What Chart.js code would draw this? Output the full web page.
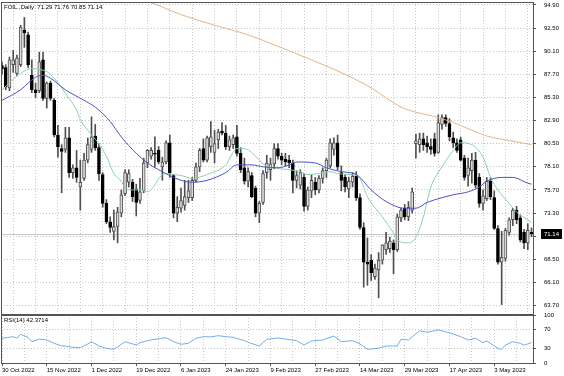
<!DOCTYPE html>
<html>
<head>
<meta charset="utf-8">
<script src="https://cdn.jsdelivr.net/npm/chart.js@4.4.0/dist/chart.umd.min.js"></script>
<style>
  html, body { margin: 0; padding: 0; background: #fff; }
  #wrap { position: relative; width: 564px; height: 376px; overflow: hidden; }
  #main { position: absolute; left: 0; top: 0; }
  #rsi { position: absolute; left: 0; top: 308px; }
</style>
</head>
<body>
<div id="wrap">
  <canvas id="main" width="564" height="316"></canvas>
  <canvas id="rsi" width="564" height="68"></canvas>
</div>
<script>
// daily bars (bar 0 = 30 Oct 2022)
const opens = [88.6,88.4,86.3,88.7,87.8,88.7,92.3,91.8,87.6,86.1,
  86.0,89.2,85.2,86.8,85.0,81.4,80.0,79.9,81.1,77.5,
  78.0,76.0,76.9,78.8,79.9,81.3,80.1,77.3,74.3,72.4,
  71.4,71.9,73.3,75.3,76.5,76.5,75.8,74.6,75.6,78.5,
  79.2,79.5,79.8,78.1,78.6,80.6,77.2,73.3,73.8,74.1,
  74.9,74.9,76.7,78.1,80.0,78.8,80.2,79.6,80.9,81.8,
  81.6,80.2,80.4,81.2,79.5,78.0,76.6,77.2,75.9,73.3,
  74.4,77.5,77.8,78.4,80.0,79.2,78.9,78.8,78.5,76.7,
  76.2,77.0,74.0,75.6,76.5,75.7,76.9,77.7,78.2,79.9,
  80.6,77.5,77.0,75.8,76.5,77.1,74.9,71.8,68.2,68.4,
  66.7,67.4,68.4,69.5,69.6,70.2,69.5,72.8,73.8,72.9,
  73.6,80.5,80.4,81.0,80.6,80.2,81.0,79.6,82.5,83.2,
  82.6,81.1,80.6,80.9,79.0,77.2,77.7,78.8,77.0,74.3,
  74.8,76.6,74.9,71.7,68.2,68.6,71.3,72.6,73.6,72.8,
  71.3,70.2,71.29];
const highs = [89.0,88.7,89.5,90.2,89.7,92.8,93.6,92.1,89.2,86.8,
  90.0,90.0,86.9,87.0,85.2,82.4,80.4,82.2,82.2,78.3,
  79.8,78.8,79.5,81.1,83.3,82.5,80.5,77.5,74.7,72.9,
  73.6,73.9,75.7,77.8,77.8,76.8,76.3,76.9,79.0,79.9,
  80.1,81.2,80.2,79.1,80.8,81.4,77.3,75.0,75.9,76.7,
  76.7,77.0,78.5,80.0,81.0,81.3,82.8,81.9,82.0,82.7,
  82.4,81.3,81.4,82.4,80.1,79.0,78.0,77.5,76.1,74.5,
  77.7,79.3,79.0,80.5,80.5,79.5,79.5,79.3,78.8,77.7,
  77.8,77.4,76.0,77.3,77.0,77.2,78.0,79.0,81.0,81.1,
  81.4,78.2,77.3,77.0,77.5,77.6,75.3,72.3,70.7,69.0,
  68.0,69.2,70.0,71.3,70.8,70.5,73.2,73.8,74.2,74.5,
  75.9,81.5,81.6,81.6,81.3,81.0,81.6,83.5,83.5,83.5,
  83.1,81.7,81.0,81.2,79.3,79.0,79.5,79.6,77.4,75.7,
  77.0,77.0,75.6,72.0,71.4,71.7,72.8,73.8,74.0,73.1,
  71.6,72.2,71.76];
const lows = [87.7,86.1,86.0,87.9,87.6,88.5,90.5,88.4,85.8,85.3,
  85.8,85.0,84.2,85.0,81.2,79.1,75.4,79.6,77.0,76.9,
  76.5,73.6,76.7,78.5,79.6,79.8,76.7,73.9,72.2,71.3,
  70.5,70.2,72.9,75.1,76.0,74.5,73.0,74.3,75.4,78.0,
  78.9,78.1,78.4,76.7,78.4,77.0,72.8,72.4,73.4,73.6,
  74.4,74.6,76.5,77.6,78.6,78.6,79.6,78.5,80.0,81.4,
  79.9,79.8,80.0,79.2,77.5,76.3,76.0,74.9,72.9,72.3,
  74.2,76.9,76.7,77.9,78.9,78.3,78.2,78.0,75.4,75.9,
  75.8,73.5,73.6,74.9,75.2,75.4,76.4,77.0,78.0,79.3,
  77.8,75.6,75.5,74.9,76.0,74.6,71.6,65.6,65.8,66.3,
  66.4,64.5,68.0,69.0,69.2,67.0,69.3,72.4,72.6,72.5,
  73.3,79.0,79.6,79.8,79.6,79.4,79.2,79.5,82.0,82.3,
  80.8,80.1,79.6,78.7,76.7,76.1,76.4,75.9,73.9,73.6,
  74.6,74.7,71.6,68.0,63.8,68.3,71.0,72.0,72.2,70.3,
  69.6,69.5,70.85];
const closes = [88.3,86.4,89.2,89.2,89.4,92.6,92.0,88.7,86.1,85.8,
  89.0,85.2,86.8,85.2,81.4,80.2,79.7,81.1,77.5,78.0,
  77.0,76.5,78.8,80.4,81.2,80.1,77.4,74.3,72.4,71.8,
  71.9,73.4,75.2,77.5,77.4,75.0,74.4,75.5,78.5,79.8,
  79.8,79.4,78.6,78.6,80.6,77.5,73.3,73.9,74.6,75.0,
  75.6,76.7,78.1,79.8,78.8,81.1,81.2,80.5,81.7,81.6,
  80.2,80.9,81.1,79.5,77.8,76.6,77.6,75.0,73.3,74.3,
  77.4,78.5,78.4,80.0,79.2,78.8,78.6,78.5,76.7,77.2,
  77.5,74.0,75.7,76.7,75.7,76.9,77.7,78.8,80.6,80.6,
  78.1,76.7,76.0,76.6,77.1,74.9,71.8,68.2,68.0,67.1,
  67.6,68.4,70.0,70.2,70.4,69.5,72.9,73.6,72.9,73.9,
  75.5,80.8,81.0,80.4,80.2,79.9,79.5,82.7,83.2,82.6,
  81.2,80.6,79.8,78.8,77.0,78.0,78.8,76.2,74.3,75.1,
  76.6,75.0,71.7,68.2,68.7,71.5,72.6,73.6,72.6,70.5,
  70.2,71.5,71.14];

// moving averages, sampled along the drawn lines (bar index / price)
const maFastIdx = [0,5,8,10,12,14,16,18,20,21,23,24,26,28,30,32,33,35,37,39,41,42,44,46,48,51,55,60,63,65,68,70,73,77,80,82,85,88,90,93,95,96,98,102,105,106,109,111,113,115,118,121,123,126,129,131,133,136,138,141,142];
const maFastVal = [86.1,87.8,88.3,88.2,88.0,87.3,86.3,85.2,84.0,83.0,81.9,81.4,80.5,79.2,77.4,76.6,75.9,75.7,75.7,75.5,76.2,76.9,77.4,77.3,77.2,76.9,77.3,78.3,80.0,80.0,79.2,78.4,78.0,77.8,77.6,77.3,77.4,77.6,77.4,77.3,77.2,76.9,75.0,72.9,71.2,70.5,70.2,70.8,72.9,76.0,78.1,79.8,80.6,80.4,79.1,77.0,75.7,74.3,73.4,72.6,72.3];
const maMidIdx = [0,5,9,11,13,17,22,25,29,32,36,39,42,48,51,55,60,63,67,70,74,77,79,84,87,91,95,99,103,108,111,114,118,121,125,128,130,134,137,141,142];
const maMidVal = [85.0,86.1,87.4,87.6,87.3,86.1,85.0,84.3,82.8,81.2,79.5,78.5,77.8,76.7,76.5,76.7,77.5,78.3,78.3,78.1,78.0,78.3,78.6,78.5,78.0,77.6,77.3,75.7,74.5,73.8,73.8,74.4,74.9,75.2,75.5,76.0,76.6,77.0,77.0,76.4,76.3];
const maSlowIdx = [30,38,48,57,66,74,83,92,99,107,117,121,126,130,135,142];
const maSlowVal = [95.9,95.4,93.9,92.8,91.8,90.6,89.2,87.7,86.3,84.3,83.2,82.7,81.9,81.3,80.9,80.4];

// RSI(14), sampled along the lower panel line
const rsiIdx = [0,3,4,5,7,8,10,12,14,16,17,19,21,23,24,26,28,30,33,36,37,39,42,44,46,48,50,52,54,56,58,60,62,65,66,69,71,74,76,79,81,83,86,89,91,94,96,98,101,103,106,107,109,112,114,117,120,123,125,127,129,130,133,134,135,137,139,140,142];
const rsiVal = [51.5,54.8,51.5,59.8,53.5,44.4,50.0,47.9,41.0,35.4,35.4,32.7,31.9,39.6,44.4,35.4,30.6,28.5,44.4,37.5,42.3,46.5,50.6,52.7,44.4,39.0,41.0,51.5,54.8,54.4,56.9,54.8,53.5,46.5,43.1,35.4,49.4,52.1,50.0,46.5,37.5,45.8,47.9,56.3,44.4,46.5,39.8,28.5,30.6,35.4,35.4,49.4,47.9,67.3,64.0,68.8,63.1,54.8,47.9,51.5,42.3,46.0,30.6,28.5,37.5,44.4,41.0,37.1,42.3714];

// axis labels
const dateLabels = ['30 Oct 2022','15 Nov 2022','1 Dec 2022','19 Dec 2022','6 Jan 2023','24 Jan 2023',
  '9 Feb 2023','27 Feb 2023','14 Mar 2023','29 Mar 2023','17 Apr 2023','3 May 2023'];
const priceTicks = [63.70,66.10,68.50,70.90,73.30,75.70,78.10,80.50,82.90,85.30,87.70,90.10,92.50,94.90];
const rsiTicks = [0,30,70,100];
const symbolName = 'FOIL.,Daily';

Chart.defaults.font.family = "'Liberation Sans', Arial, sans-serif";
Chart.defaults.font.size = 6;
Chart.defaults.color = '#000';
Chart.defaults.animation = false;

const last = closes.length - 1;
const gridIdx = [];
for (let i = 0; i <= last; i += 6) gridIdx.push(i);

const wickData = closes.map((c, i) => ({ x: i, y: [lows[i], highs[i]] }));
const bodyData = closes.map((c, i) => ({ x: i, y: [opens[i], c] }));
const bodyFill = closes.map((c, i) => c >= opens[i] ? '#dcdcdc' : '#000');
const bodyLine = closes.map((c, i) => c >= opens[i] ? '#505050' : '#000');

const pairs = (idx, val) => idx.map((x, k) => ({ x: x, y: val[k] }));

const gridColor = '#c6c6c6';
const gridDash = [1, 2];
const xRange = { min: -0.27, max: 142.4 };

const frame = {
  id: 'frame',
  afterDraw(chart) {
    const { ctx, chartArea: a } = chart;
    ctx.save();
    ctx.strokeStyle = '#555';
    ctx.lineWidth = 1;
    ctx.strokeRect(Math.floor(a.left) + 0.5, Math.floor(a.top) + 0.5,
      Math.round(a.right - a.left), Math.round(a.bottom - a.top));
    ctx.restore();
  }
};

// bid line, price box and the header text on the price panel
const priceExtras = {
  id: 'priceExtras',
  beforeDatasetsDraw(chart) {
    const { ctx, chartArea: a, scales } = chart;
    const y = Math.round(scales.y.getPixelForValue(closes[last])) + 0.5;
    ctx.save();
    ctx.strokeStyle = '#c8c8c8';
    ctx.lineWidth = 1;
    ctx.beginPath();
    ctx.moveTo(a.left, y);
    ctx.lineTo(a.right, y);
    ctx.stroke();
    ctx.restore();
  },
  afterDraw(chart) {
    const { ctx, chartArea: a, scales } = chart;
    const y = scales.y.getPixelForValue(closes[last]);
    ctx.save();
    ctx.fillStyle = '#000';
    ctx.fillRect(a.right + 8, Math.round(y) - 5, 21, 10);
    ctx.font = "6px 'Liberation Sans', Arial, sans-serif";
    ctx.textBaseline = 'middle';
    ctx.fillStyle = '#fff';
    ctx.fillText(closes[last].toFixed(2), a.right + 11, y);
    ctx.fillStyle = '#000';
    const head = symbolName + '  ' + [opens[last], highs[last], lows[last], closes[last]]
      .map(v => v.toFixed(2)).join(' ');
    ctx.fillText(head, a.left + 3, a.top + 5);
    ctx.restore();
  }
};

new Chart(document.getElementById('main'), {
  type: 'bar',
  data: {
    datasets: [
      { type: 'line', data: pairs(maSlowIdx, maSlowVal), borderColor: '#e2b48c', borderWidth: 1,
        pointRadius: 0, cubicInterpolationMode: 'monotone', order: 0 },
      { type: 'line', data: pairs(maMidIdx, maMidVal), borderColor: '#5050c4', borderWidth: 1,
        pointRadius: 0, cubicInterpolationMode: 'monotone', order: 0 },
      { type: 'line', data: pairs(maFastIdx, maFastVal), borderColor: '#8ad0ae', borderWidth: 1,
        pointRadius: 0, cubicInterpolationMode: 'monotone', order: 0 },
      { data: bodyData, backgroundColor: bodyFill, borderColor: bodyLine, borderWidth: 1,
        borderSkipped: false, barThickness: 3, minBarLength: 1, grouped: false, order: 2 },
      { data: wickData, backgroundColor: '#505050', borderWidth: 0,
        barThickness: 1, grouped: false, order: 3 }
    ]
  },
  options: {
    responsive: false,
    layout: { padding: { left: 1, right: 0, top: 2, bottom: 2 } },
    plugins: { legend: { display: false }, tooltip: { enabled: false } },
    events: [],
    scales: {
      x: {
        type: 'linear', min: xRange.min, max: xRange.max, offset: false,
        afterBuildTicks: s => { s.ticks = gridIdx.map(v => ({ value: v })); },
        ticks: { display: false },
        grid: { color: gridColor, drawTicks: false },
        border: { display: false, dash: gridDash },
        afterFit: s => { s.height = 0; s.paddingLeft = 0; s.paddingRight = 0; }
      },
      y: {
        position: 'right', min: 62.82, max: 95.21,
        afterBuildTicks: s => { s.ticks = priceTicks.map(v => ({ value: v })); },
        ticks: { callback: v => v.toFixed(2), padding: 8, autoSkip: false },
        grid: { color: gridColor, tickLength: 3, tickColor: '#555', tickBorderDash: [] },
        border: { display: false, dash: gridDash },
        afterFit: s => { s.width = 31; s.paddingTop = 0; s.paddingBottom = 0; }
      }
    }
  },
  plugins: [frame, priceExtras]
});

const rsiHead = {
  id: 'rsiHead',
  afterDraw(chart) {
    const { ctx, chartArea: a } = chart;
    ctx.save();
    ctx.font = "6px 'Liberation Sans', Arial, sans-serif";
    ctx.textBaseline = 'middle';
    ctx.fillStyle = '#000';
    ctx.fillText('RSI(14) ' + rsiVal[rsiVal.length - 1].toFixed(4), a.left + 3, a.top + 5);
    ctx.restore();
  }
};

new Chart(document.getElementById('rsi'), {
  type: 'line',
  data: {
    datasets: [
      { data: pairs(rsiIdx, rsiVal), borderColor: '#74aee6', borderWidth: 1, pointRadius: 0 }
    ]
  },
  options: {
    responsive: false,
    layout: { padding: { left: 1, right: 0, top: 7, bottom: 0 } },
    plugins: { legend: { display: false }, tooltip: { enabled: false } },
    events: [],
    scales: {
      x: {
        type: 'linear', min: xRange.min, max: xRange.max, offset: false,
        afterBuildTicks: s => { s.ticks = gridIdx.map(v => ({ value: v })); },
        ticks: {
          autoSkip: false, maxRotation: 0, align: 'start', padding: 1,
          callback: v => (v % 12 === 0 && dateLabels[v / 12]) ? dateLabels[v / 12] : ''
        },
        grid: {
          color: gridColor, tickLength: 3, tickBorderDash: [],
          tickColor: c => (c.tick && c.tick.value % 12 === 0) ? '#555' : 'rgba(0,0,0,0)'
        },
        border: { display: false, dash: gridDash },
        afterFit: s => { s.height = 13; s.paddingLeft = 0; s.paddingRight = 0; }
      },
      y: {
        position: 'right', min: 0, max: 100,
        afterBuildTicks: s => { s.ticks = rsiTicks.map(v => ({ value: v })); },
        ticks: { padding: 8, autoSkip: false },
        grid: {
          tickLength: 3, tickColor: '#555', tickBorderDash: [],
          color: c => (c.tick && (c.tick.value === 30 || c.tick.value === 70)) ? gridColor : 'rgba(0,0,0,0)'
        },
        border: { display: false, dash: gridDash },
        afterFit: s => { s.width = 31; s.paddingTop = 0; s.paddingBottom = 0; }
      }
    }
  },
  plugins: [frame, rsiHead]
});
</script>
</body>
</html>
